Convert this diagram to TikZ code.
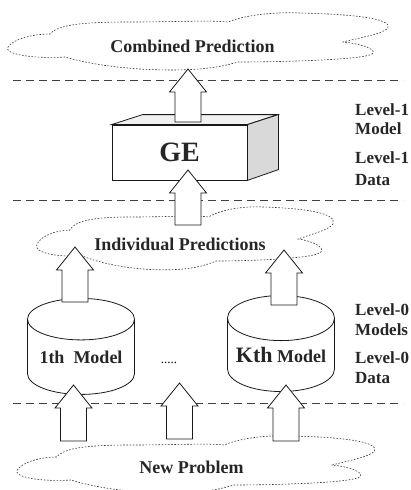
\documentclass[tikz,border=0pt]{standalone}
\usepackage{fontspec}
\setmainfont{Liberation Serif}
\usetikzlibrary{shapes.geometric,calc}

\tikzset{
    cloudline/.style={dash pattern=on 1.6pt off 1.6pt, line width=0.6pt, draw=black!80},
    sepline/.style={dash pattern=on 8pt off 5pt, line width=0.7pt, draw=black!75},
    blockarrow/.style={draw=black!90, fill=white, line width=0.8pt},
    lvl/.style={font=\bfseries\fontsize{17}{17}\selectfont, anchor=base west, inner sep=0pt, text=black!85},
    cloudtext/.style={font=\bfseries\fontsize{18}{18}\selectfont, anchor=base, inner sep=0pt, text=black!85},
    dbcyl/.style={cylinder, shape border rotate=90, aspect=0.5, draw=black!90, fill=white, line width=0.8pt,
        minimum width=107pt, minimum height=96pt, inner sep=0pt, text=black!85, font=\bfseries\fontsize{18}{18}\selectfont},
    cloud/.pic={
        \draw[cloudline] (-133,15) .. controls (-165,17) and (-195,12) .. (-190,5)
            .. controls (-185,-3) and (-165,-8) .. (-148,-8)
            .. controls (-140,-18) and (-110,-20) .. (-68,-20)
            .. controls (-20,-20) and (10,-22) .. (30,-20)
            .. controls (50,-28) and (80,-30) .. (102,-29)
            .. controls (150,-28) and (195,-24) .. (190,-14)
            .. controls (185,-8) and (160,-4) .. (145,0)
            .. controls (165,2) and (180,8) .. (174,12)
            .. controls (165,18) and (80,20) .. (40,20)
            .. controls (20,26) and (0,28) .. (-28,28)
            .. controls (-70,28) and (-110,22) .. (-133,15) -- cycle;
    }
}

% hollow up-arrow from tail to tip
\newcommand{\bigarrow}[2]{%
    \draw[blockarrow] let \p1=(#1), \p2=(#2) in
        (\x1-13pt,\y1) -- (\x1-13pt,\y2-23pt) -- (\x1-18.5pt,\y2-23pt) -- (\x1,\y2)
        -- (\x1+18.5pt,\y2-23pt) -- (\x1+13pt,\y2-23pt) -- (\x1+13pt,\y1) -- cycle;}

\begin{document}
\begin{tikzpicture}[x=1pt,y=-1pt]
    \useasboundingbox (0,0) rectangle (411,490);

    % separators
    \foreach \y in {80,200,403}{
        \draw[sepline] (13,\y) -- (403,\y);
    }

    % clouds
    \pic at (198,42) {cloud};
    \pic[xscale=0.78,yscale=1.1] at (185,239) {cloud};
    \pic[xscale=0.94] at (196,465) {cloud};
    \node[cloudtext] (comb) at (192.5,52.5) {Combined Prediction};
    \node[cloudtext] (indiv) at (180,250) {Individual Predictions};
    \node[cloudtext] (newp) at (191.5,473) {New Problem};

    % level-1 model
    \node[draw=black!90, line width=0.8pt, fill=white, minimum width=135pt, minimum height=55pt, inner sep=0pt,
        text=black!85, font=\bfseries\fontsize{28}{28}\selectfont] (ge) at (179.5,152.5) {GE};
    \draw[line width=0.8pt, draw=black!90, fill=black!6] (ge.north west) -- ++(31,-10) -- ++(135,0) -- (ge.north east) -- cycle;
    \draw[line width=0.8pt, draw=black!90, fill=black!15] (ge.north east) -- ++(31,-10) -- ++(0,55) -- (ge.south east) -- cycle;

    % level-0 models
    \node[dbcyl] (m1) at (81,357) {1th\enspace Model};
    \node[dbcyl] (mk) at (281,355) {{\fontsize{22}{22}\selectfont Kth} Model};
    \node[font=\fontsize{13}{13}\selectfont, anchor=base, inner sep=0pt] (dots) at (169,363) {.....};

    % arrows
    \coordinate (a1s) at (188,122);   \coordinate (a1e) at (188,69);
    \coordinate (a2s) at (188,225);   \coordinate (a2e) at (188,170);
    \coordinate (a3s) at (75,302);    \coordinate (a3e) at (75,247);
    \coordinate (a4s) at (284,305);   \coordinate (a4e) at (284,250);
    \coordinate (a5s) at (73.5,441);  \coordinate (a5e) at (73.5,385);
    \coordinate (a6s) at (179.5,439); \coordinate (a6e) at (179.5,383);
    \coordinate (a7s) at (286,441);   \coordinate (a7e) at (286,385);
    \foreach \i in {1,...,7}{
        \bigarrow{a\i s}{a\i e}
    }

    % level labels
    \foreach \y/\t [count=\i] in {115/Level-1, 134/Model, 163/Level-1, 185/Data,
        315/Level-0, 335/Models, 363/Level-0, 383/Data}{
        \node[lvl] (lv\i) at (355,\y) {\t};
    }
\end{tikzpicture}
\end{document}
